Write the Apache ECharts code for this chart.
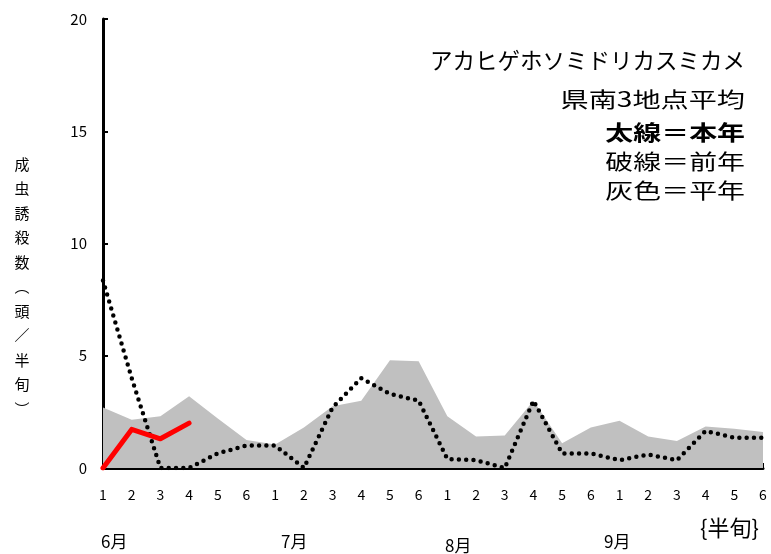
<!DOCTYPE html>
<html><head><meta charset="utf-8">
<script src="https://cdn.jsdelivr.net/npm/echarts@6/dist/echarts.min.js"></script>
<style>html,body{margin:0;padding:0;background:#fff}#c{width:771px;height:554px}</style>
</head><body><div id="c"></div>
<script>
var categories = ['1','2','3','4','5','6','1','2','3','4','5','6','1','2','3','4','5','6','1','2','3','4','5','6'];
var months = ['6月','7月','8月','9月'];
var normalYear = [2.7,2.15,2.3,3.2,2.2,1.25,1.05,1.8,2.75,3.0,4.8,4.75,2.3,1.4,1.45,3.0,1.1,1.8,2.1,1.4,1.2,1.85,1.75,1.6];
var lastYear = [8.35,4.0,0,0,0.65,1.0,1.0,0,2.7,4.0,3.3,3.0,0.4,0.35,0,3.0,0.65,0.65,0.35,0.6,0.35,1.65,1.35,1.35];
var thisYear = [0,1.72,1.3,2.0];
var yTicks = [0,5,10,15,20];

var chart = echarts.init(document.getElementById('c'));
var font = '"Noto Sans CJK JP", sans-serif';
function rtext(txt, y, bold, sx, size) {
  return {type:'text', x:745, y:y, scaleX:sx, originX:0, originY:0,
    style:{text:txt, x:0, y:0, align:'right', verticalAlign:'middle',
      font:(bold?'bold ':'')+size+'px '+font, fill:'#000'}};
}
chart.setOption({
  animation: false,
  grid: {left:103, right:8, top:19, bottom:86, containLabel:false},
  xAxis: {
    type:'category', data:categories, boundaryGap:false,
    axisLine:{lineStyle:{color:'#000', width:3}},
    axisTick:{show:true, inside:true, length:5, interval:0, lineStyle:{color:'#000', width:2}, alignWithLabel:true},
    axisLabel:{interval:0, margin:20, color:'#000', fontSize:14, fontFamily:font},
    splitLine:{show:false}
  },
  yAxis: {
    type:'value', min:yTicks[0], max:yTicks[yTicks.length-1], interval:5,
    axisLine:{show:true, lineStyle:{color:'#000', width:3}},
    axisTick:{show:true, inside:true, length:5, lineStyle:{color:'#000', width:2}},
    axisLabel:{margin:16, color:'#000', fontSize:15, fontFamily:font},
    splitLine:{show:false}
  },
  series: [
    {type:'line', data:normalYear, symbol:'none', lineStyle:{width:0, color:'#c0c0c0'}, areaStyle:{color:'#c0c0c0', opacity:1}, z:1},
    {type:'line', data:lastYear, symbol:'none', lineStyle:{width:4.5, color:'#000', type:[0,7.3], cap:'round', join:'round'}, z:3},
    {type:'line', data:thisYear, symbol:'none', lineStyle:{width:5, color:'#ff0000', cap:'round', join:'round'}, z:4}
  ],
  graphic: [
    rtext('アカヒゲホソミドリカスミカメ', 60, false, 1, 22.5),
    rtext('県南3地点平均', 99, false, 1.34, 21),
    rtext('太線＝本年', 132, true, 1.33, 21),
    rtext('破線＝前年', 161.5, false, 1.33, 21),
    rtext('灰色＝平年', 190, false, 1.33, 21),
    {type:'text', x:22, y:152, style:{text:'成\n虫\n誘\n殺\n数\n︵\n頭\n／\n半\n旬\n︶', x:0, y:0, font:'15px '+font, fill:'#000', lineHeight:24.5, align:'center'}},
    {type:'text', left:101, top:533, style:{text:months[0], font:'17px '+font, fill:'#000'}},
    {type:'text', left:281, top:533, style:{text:months[1], font:'17px '+font, fill:'#000'}},
    {type:'text', left:445, top:537, style:{text:months[2], font:'17px '+font, fill:'#000'}},
    {type:'text', left:604, top:533, style:{text:months[3], font:'17px '+font, fill:'#000'}},
    {type:'text', left:700, top:517, style:{text:'{半旬}', font:'22px '+font, fill:'#000'}}
  ]
});
</script></body></html>
